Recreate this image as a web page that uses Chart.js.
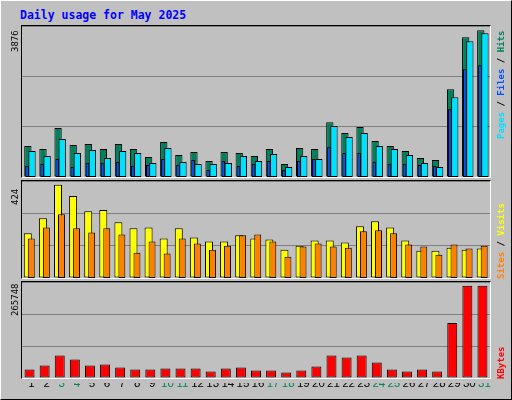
<!DOCTYPE html>
<html>
<head>
<meta charset="utf-8">
<script src="https://cdn.jsdelivr.net/npm/chart.js@4"></script>
<style>
  body { margin: 0; background: #fff; }
  #frame { position: absolute; left: 0; top: 0; width: 510px; height: 398px; background: #c0c0c0;
           border-top: 1px solid #fff; border-left: 1px solid #fff; border-right: 1px solid #000; border-bottom: 1px solid #000; }
  .panel { position: absolute; left: 20px; width: 468px; border-top: 1px solid #000; border-left: 1px solid #000;
           border-right: 1px solid #fff; border-bottom: 1px solid #fff; }
  .panel canvas { display: block; position: absolute; left: 0; top: 0; }
  .txt { position: absolute; white-space: nowrap; font-family: "DejaVu Sans Mono", monospace; font-size: 9px; line-height: 10px; }
  .rot { transform-origin: left top; transform: rotate(-90deg); }
  .leg { font-weight: bold; }
  #title { left: 19px; top: 7px; color: #0000ff; font-weight: bold; font-size: 11.5px; line-height: 14px; }
</style>
</head>
<body>
<div id="frame">
  <div id="title" class="txt">Daily usage for May 2025</div>
  <div class="panel" style="top:24px;height:151px"><canvas id="c1a" width="468" height="151"></canvas><canvas id="c1b" width="468" height="151"></canvas></div>
  <div class="panel" style="top:179px;height:97px"><canvas id="c2a" width="468" height="97"></canvas><canvas id="c2b" width="468" height="97"></canvas></div>
  <div class="panel" style="top:280px;height:96px"><canvas id="c3" width="468" height="96"></canvas></div>
  <div style="position:absolute;left:23px;top:382px;width:468px;height:16px"><canvas id="cx" width="468" height="16"></canvas></div>
  <div class="txt rot" style="left:9px;top:51px">3876</div>
  <div class="txt rot" style="left:9px;top:204px">424</div>
  <div class="txt rot" style="left:9px;top:315px">265748</div>
  <div class="txt rot leg" style="left:495px;top:138px"><span style="color:#00e0ff">Pages</span> / <span style="color:#0050ff">Files</span> / <span style="color:#00805c">Hits</span></div>
  <div class="txt rot leg" style="left:495px;top:278px"><span style="color:#ff8000">Sites</span> / <span style="color:#ffff00">Visits</span></div>
  <div class="txt rot leg" style="left:495px;top:378px"><span style="color:#ff0000">KBytes</span></div>
</div>
<script>
const days = ["1","2","3","4","5","6","7","8","9","10","11","12","13","14","15","16","17","18","19","20","21","22","23","24","25","26","27","28","29","30","31"];
const weekendDays = ["3","4","10","11","17","18","24","25","31"];

const hits   = [817, 738, 1292, 844, 870, 738, 870, 738, 527, 923, 580, 659, 422, 659, 633, 554, 738, 343, 765, 738, 1450, 1160, 1319, 949, 817, 686, 501, 448, 2321, 3692, 3876];
const pages  = [686, 554, 1002, 633, 712, 501, 686, 633, 369, 765, 396, 343, 343, 369, 554, 422, 607, 264, 554, 475, 1345, 1055, 1160, 817, 738, 580, 369, 264, 2110, 3586, 3797];
const files  = [290, 343, 475, 264, 369, 369, 396, 290, 316, 475, 316, 448, 185, 422, 290, 343, 422, 185, 422, 475, 791, 633, 633, 396, 343, 343, 316, 290, 1793, 2848, 2953];
const visits = [203, 272, 424, 373, 304, 309, 253, 226, 230, 180, 226, 184, 166, 166, 194, 180, 175, 129, 147, 170, 170, 161, 235, 258, 230, 170, 124, 124, 138, 129, 134];
const sites  = [180, 230, 290, 226, 207, 226, 198, 115, 166, 111, 180, 157, 129, 147, 194, 198, 166, 97, 143, 157, 143, 138, 212, 217, 203, 152, 143, 106, 152, 134, 147];
const kbytes = [24250, 35890, 64990, 53350, 35890, 38800, 30070, 24250, 24250, 27160, 27160, 27160, 18430, 27160, 30070, 21340, 21340, 15520, 21340, 32980, 64990, 59170, 64990, 44620, 24250, 18430, 24250, 18430, 158110, 265748, 265748];

function panelOptions(max, showGrid) {
    return {
        responsive: false,
        animation: false,
        layout: { padding: 0 },
        plugins: { legend: { display: false }, tooltip: { enabled: false } },
        scales: {
            x: { display: false },
            y: {
                min: 0, max: max,
                ticks: { display: false, stepSize: max / 3 },
                border: { display: false },
                grid: { display: showGrid, color: "#808080", lineWidth: 1, drawTicks: false },
                afterFit: function (s) { s.width = 0; }
            }
        }
    };
}

function bar(label, data, color, cat, pct) {
    return { label: label, data: data, backgroundColor: color, borderColor: color == "transparent" ? color : "#000",
             borderWidth: 1, categoryPercentage: cat, barPercentage: pct, borderSkipped: false };
}

// each panel is drawn in layers so the left bars sit under the right ones;
// every layer keeps all series so the bar slots line up, hidden ones are transparent.
// empty series (data: []) only act as spacers between slots
function layered(ids, series, max, cat) {
    ids.forEach((id, layer) => {
        new Chart(document.getElementById(id), {
            type: "bar",
            data: {
                labels: days,
                datasets: series.map(s => bar(s.label, s.data, s.layer == layer ? s.color : "transparent", cat, s.pct))
            },
            options: panelOptions(max, layer == 0)
        });
    });
}

const spacer = { label: "", data: [], color: "transparent", pct: 1, layer: -1 };

layered(["c1a", "c1b"], [
    { label: "Files", data: files, color: "#0050ff", pct: 4.4, layer: 1 },
    { label: "Hits", data: hits, color: "#00805c", pct: 8.8, layer: 0 },
    spacer, spacer, spacer, spacer,
    { label: "Pages", data: pages, color: "#00e0ff", pct: 8.8, layer: 1 }
], 3990, 0.385);

layered(["c2a", "c2b"], [
    { label: "Visits", data: visits, color: "#ffff00", pct: 2.3, layer: 0 },
    { label: "Sites", data: sites, color: "#ff8000", pct: 2.0, layer: 1 }
], 441, 0.46);

layered(["c3"], [
    { label: "KBytes", data: kbytes, color: "#ff0000", pct: 0.66, layer: 0 }
], 276450, 1);

// day labels along the bottom
new Chart(document.getElementById("cx"), {
    type: "bar",
    data: { labels: days, datasets: [{ data: [] }] },
    options: {
        responsive: false,
        animation: false,
        layout: { padding: 0 },
        plugins: { legend: { display: false }, tooltip: { enabled: false } },
        scales: {
            x: {
                position: "top",
                border: { display: false },
                grid: { display: false, drawTicks: false },
                ticks: {
                    padding: 0, maxRotation: 0, autoSkip: false,
                    font: { family: "Liberation Sans", size: 11.5 },
                    color: ctx => weekendDays.includes(days[ctx.index]) ? "#00805c" : "#000"
                }
            },
            y: { display: false }
        }
    }
});
</script>
</body>
</html>
